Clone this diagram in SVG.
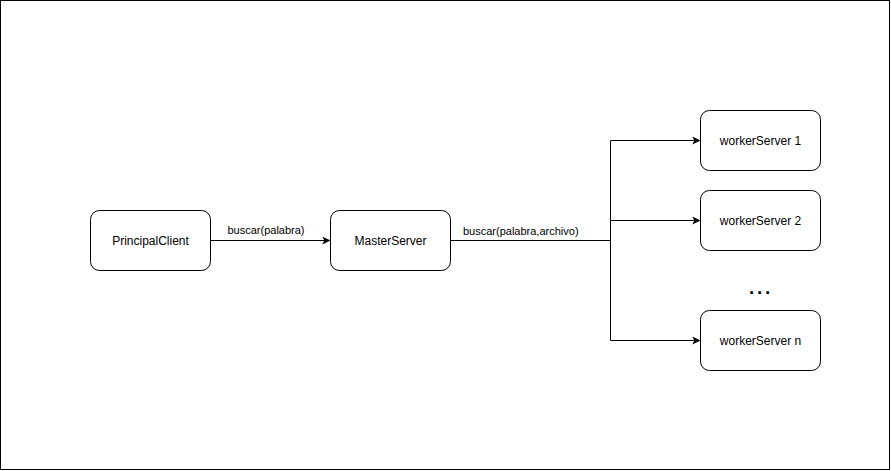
<svg xmlns="http://www.w3.org/2000/svg" width="891" height="471" viewBox="0 0 891 471">
  <defs>
    <marker id="arrow" viewBox="0 0 10 10" refX="9" refY="5" markerWidth="8" markerHeight="8" markerUnits="userSpaceOnUse" orient="auto">
      <path d="M0,0 L10,5 L0,10 L2.5,5 Z" fill="#000"/>
    </marker>
    <style>
      .node rect { fill: #fff; stroke: #000; stroke-width: 1; }
      .node text { font-family: "Liberation Sans", Arial, sans-serif; font-size: 12px; fill: #000; text-anchor: middle; dominant-baseline: central; }
      .edge { fill: none; stroke: #000; stroke-width: 1; }
      .lbl { font-family: "Liberation Sans", Arial, sans-serif; font-size: 11px; fill: #000; }
    </style>
  </defs>
  <rect x="0.5" y="0.5" width="889" height="469" fill="#fff" stroke="#000"/>

  <g id="connectors">
    <path class="edge" d="M210.5,240.5 H329.5" marker-end="url(#arrow)"/>
    <path class="edge" d="M450.5,240.5 H610.5 V140.5 H699.5" marker-end="url(#arrow)"/>
    <path class="edge" d="M610.5,220.5 H699.5" marker-end="url(#arrow)"/>
    <path class="edge" d="M610.5,240.5 V340.5 H699.5" marker-end="url(#arrow)"/>
    <text class="lbl" x="266" y="234" text-anchor="middle">buscar(palabra)</text>
    <text class="lbl" x="463" y="235">buscar(palabra,archivo)</text>
  </g>

  <g id="principal-client" class="node">
    <rect x="90.5" y="210.5" width="120" height="60" rx="9"/>
    <text x="150.5" y="240.5">PrincipalClient</text>
  </g>
  <g id="master-server" class="node">
    <rect x="330.5" y="210.5" width="120" height="60" rx="9"/>
    <text x="390.5" y="240.5">MasterServer</text>
  </g>
  <g id="worker-1" class="node">
    <rect x="700.5" y="110.5" width="120" height="60" rx="9"/>
    <text x="760.5" y="140.5">workerServer 1</text>
  </g>
  <g id="worker-2" class="node">
    <rect x="700.5" y="190.5" width="120" height="60" rx="9"/>
    <text x="760.5" y="220.5">workerServer 2</text>
  </g>
  <g id="worker-n" class="node">
    <rect x="700.5" y="310.5" width="120" height="60" rx="9"/>
    <text x="760.5" y="340.5">workerServer n</text>
  </g>

  <text id="ellipsis" x="749" y="294" font-family="Liberation Sans, Arial, sans-serif" font-size="19" font-weight="bold" letter-spacing="2.7">...</text>
</svg>
